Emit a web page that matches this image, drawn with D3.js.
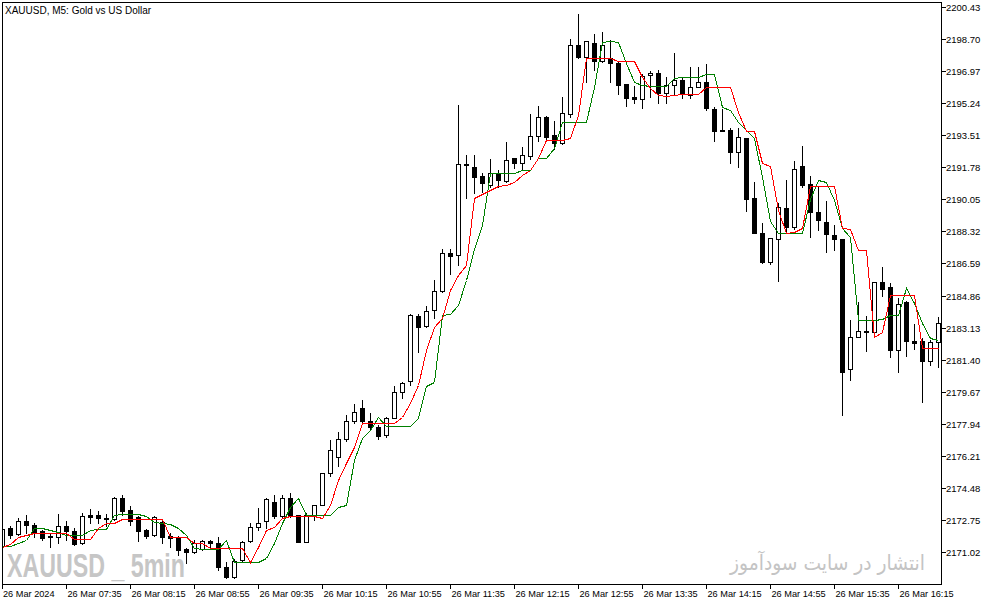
<!DOCTYPE html>
<html>
<head>
<meta charset="utf-8">
<title>XAUUSD M5</title>
<script src="https://d3js.org/d3.v7.min.js"></script>
<style>
  body { margin: 0; background: #fff; }
  svg { display: block; }
</style>
</head>
<body>
<script>
// candles (one per 5 min bar, first bar 06:55)
const open = [
  2171.34, 2172.31, 2171.99, 2172.69, 2172.47, 2172.15, 2171.88, 2171.82, 2172.42, 2172.15,
  2171.50, 2173.01, 2173.01, 2172.85, 2172.80, 2173.93, 2173.28, 2172.90, 2172.20, 2171.93,
  2172.63, 2171.88, 2171.82, 2171.18, 2171.02, 2171.18, 2171.61, 2171.50, 2170.20, 2169.66,
  2170.58, 2171.61, 2172.36, 2172.69, 2173.71, 2172.96, 2173.93, 2173.01, 2171.55, 2173.01,
  2173.55, 2175.28, 2176.14, 2177.12, 2178.09, 2178.79, 2178.09, 2177.76, 2177.33, 2178.25,
  2179.65, 2180.24, 2183.75, 2183.21, 2184.08, 2185.10, 2187.15, 2187.04, 2191.96, 2191.80,
  2191.31, 2190.82, 2191.42, 2191.04, 2192.28, 2192.01, 2192.39, 2193.47, 2194.49, 2193.52,
  2193.09, 2194.66, 2198.38, 2197.73, 2198.49, 2197.52, 2197.68, 2197.41, 2196.27, 2195.57,
  2195.46, 2196.76, 2196.87, 2195.79, 2196.22, 2196.49, 2195.68, 2196.11, 2196.38, 2194.93,
  2193.79, 2193.79, 2192.60, 2193.36, 2190.12, 2188.23, 2186.67, 2187.91, 2189.58, 2188.56,
  2191.85, 2190.88, 2189.36, 2188.83, 2188.12, 2187.91, 2180.89, 2182.62, 2182.94, 2182.89,
  2185.58, 2185.32, 2181.92, 2184.51, 2182.40, 2182.40, 2181.32, 2182.35
];
const high = [
  2172.36, 2172.42, 2172.85, 2173.01, 2172.58, 2172.20, 2172.04, 2173.07, 2172.69, 2172.31,
  2173.12, 2173.34, 2173.23, 2173.07, 2173.99, 2174.09, 2173.50, 2172.96, 2172.25, 2172.96,
  2172.69, 2172.04, 2171.88, 2171.23, 2171.66, 2171.66, 2171.66, 2171.82, 2170.47, 2170.64,
  2171.61, 2172.58, 2173.39, 2173.93, 2174.09, 2174.09, 2174.20, 2173.01, 2173.12, 2173.55,
  2175.28, 2177.06, 2177.49, 2178.41, 2179.00, 2179.22, 2178.52, 2177.87, 2178.30, 2179.98,
  2180.19, 2183.87, 2183.86, 2184.29, 2185.70, 2187.37, 2187.37, 2195.14, 2192.44, 2192.44,
  2191.47, 2192.23, 2191.63, 2193.14, 2192.28, 2192.88, 2194.66, 2195.09, 2194.55, 2194.28,
  2195.57, 2198.70, 2200.05, 2198.59, 2198.97, 2199.08, 2198.65, 2197.46, 2196.27, 2196.17,
  2196.81, 2196.98, 2197.03, 2196.65, 2197.95, 2196.65, 2197.19, 2197.19, 2197.35, 2195.03,
  2194.92, 2193.90, 2193.90, 2193.36, 2190.99, 2188.77, 2187.96, 2189.85, 2191.09, 2192.12,
  2192.93, 2191.31, 2190.71, 2189.96, 2188.66, 2187.91, 2183.54, 2184.51, 2183.75, 2185.59,
  2186.39, 2185.53, 2184.73, 2184.56, 2183.32, 2182.56, 2182.45, 2183.70
];
const low = [
  2171.28, 2171.77, 2171.93, 2172.04, 2171.82, 2171.66, 2171.28, 2171.50, 2171.66, 2171.39,
  2171.45, 2172.58, 2172.58, 2172.42, 2172.74, 2173.01, 2172.47, 2171.61, 2171.77, 2171.88,
  2171.50, 2171.28, 2170.85, 2170.42, 2170.96, 2171.12, 2171.18, 2170.04, 2169.61, 2169.61,
  2170.53, 2171.55, 2172.20, 2172.31, 2172.85, 2172.85, 2172.90, 2171.55, 2171.55, 2172.74,
  2173.55, 2175.12, 2175.66, 2177.01, 2177.98, 2178.03, 2177.60, 2177.11, 2177.22, 2178.25,
  2179.33, 2180.03, 2181.81, 2183.16, 2183.64, 2185.05, 2186.02, 2186.50, 2190.12, 2190.39,
  2190.45, 2190.71, 2190.71, 2190.98, 2191.74, 2191.69, 2192.23, 2193.20, 2193.25, 2192.77,
  2193.03, 2194.49, 2197.68, 2196.38, 2197.03, 2197.46, 2196.38, 2195.73, 2195.09, 2195.25,
  2194.98, 2195.57, 2195.25, 2195.25, 2195.68, 2195.52, 2195.52, 2196.11, 2194.87, 2193.20,
  2193.74, 2192.01, 2191.80, 2189.42, 2188.23, 2186.61, 2186.56, 2185.64, 2188.29, 2188.45,
  2190.71, 2188.02, 2188.39, 2187.21, 2187.31, 2178.41, 2180.30, 2182.62, 2181.86, 2182.83,
  2184.83, 2181.54, 2180.73, 2181.59, 2181.97, 2179.11, 2181.10, 2180.99
];
const close = [
  2172.25, 2171.93, 2172.69, 2172.47, 2172.09, 2171.77, 2171.85, 2172.42, 2172.15, 2171.45,
  2172.96, 2172.90, 2172.85, 2172.82, 2173.93, 2173.23, 2172.69, 2172.15, 2171.88, 2172.90,
  2171.82, 2171.77, 2171.12, 2171.02, 2171.50, 2171.61, 2171.50, 2170.20, 2169.66, 2170.53,
  2171.55, 2172.36, 2172.58, 2173.88, 2172.96, 2173.93, 2173.01, 2171.55, 2173.01, 2173.55,
  2175.28, 2176.52, 2177.12, 2178.09, 2178.57, 2178.09, 2177.76, 2177.28, 2178.25, 2179.65,
  2180.14, 2183.81, 2183.16, 2184.02, 2185.10, 2187.15, 2186.99, 2191.96, 2191.90, 2191.26,
  2190.93, 2191.47, 2191.09, 2192.17, 2192.01, 2192.44, 2193.47, 2194.49, 2193.41, 2193.09,
  2194.71, 2198.38, 2197.73, 2198.59, 2197.52, 2198.38, 2197.41, 2196.22, 2195.52, 2195.46,
  2196.71, 2196.87, 2195.79, 2196.22, 2196.49, 2195.73, 2196.11, 2196.38, 2194.98, 2193.74,
  2193.74, 2192.60, 2193.41, 2190.07, 2188.23, 2186.67, 2187.96, 2189.63, 2188.56, 2191.69,
  2190.82, 2189.36, 2188.93, 2188.18, 2187.91, 2180.73, 2182.62, 2182.94, 2182.89, 2185.58,
  2185.21, 2181.92, 2184.40, 2182.40, 2182.29, 2181.32, 2182.35, 2183.37
];

// the two indicator lines (red = fast, green = slow), also
const redLine = [
  2171.30, 2171.43, 2171.81, 2171.93, 2172.03, 2172.03, 2172.03, 2172.03, 2172.03, 2171.70,
  2171.70, 2171.70, 2172.30, 2172.60, 2172.60, 2172.80, 2172.80, 2172.80, 2172.80, 2172.80,
  2172.80, 2171.84, 2171.84, 2171.84, 2171.52, 2171.52, 2171.22, 2171.22, 2171.22, 2171.22,
  2171.22, 2170.49, 2171.30, 2172.20, 2172.38, 2172.84, 2172.98, 2172.98, 2172.98, 2172.98,
  2172.84, 2173.55, 2174.90, 2175.82, 2176.69, 2178.00, 2178.00, 2178.00, 2178.00, 2178.00,
  2178.32, 2179.06, 2180.03, 2181.92, 2183.18, 2183.65, 2185.16, 2185.97, 2186.51, 2190.11,
  2190.34, 2190.56, 2190.77, 2190.83, 2191.00, 2191.37, 2191.64, 2192.27, 2193.25, 2193.25,
  2193.25, 2193.36, 2194.60, 2197.66, 2197.66, 2197.66, 2197.66, 2197.50, 2197.50, 2197.50,
  2196.67, 2196.04, 2195.68, 2195.63, 2195.68, 2195.74, 2195.74, 2195.74, 2196.10, 2196.10,
  2196.10, 2196.10, 2194.78, 2193.76, 2193.76, 2192.00, 2191.85, 2189.48, 2188.25, 2188.31,
  2188.49, 2190.77, 2190.77, 2190.77, 2190.77, 2188.49, 2188.44, 2187.32, 2187.32, 2182.61,
  2182.91, 2184.89, 2184.89, 2184.89, 2184.89, 2182.01, 2182.01, 2182.01
];
const greenLine = [
  2171.36, 2171.36, 2171.49, 2171.67, 2172.30, 2172.30, 2172.20, 2172.11, 2171.93, 2171.93,
  2171.93, 2172.20, 2172.26, 2172.26, 2173.02, 2173.05, 2173.05, 2173.05, 2172.96, 2172.65,
  2172.57, 2172.53, 2172.30, 2171.93, 2171.22, 2171.18, 2171.18, 2171.18, 2171.67, 2170.49,
  2170.46, 2170.46, 2170.46, 2170.68, 2171.49, 2172.57, 2173.46, 2173.92, 2173.02, 2173.02,
  2173.02, 2173.02, 2173.43, 2173.55, 2175.98, 2177.17, 2177.60, 2178.32, 2177.82, 2177.82,
  2177.82, 2177.82, 2178.27, 2179.98, 2180.21, 2183.81, 2183.85, 2184.35, 2185.70, 2187.37,
  2188.67, 2191.46, 2191.46, 2191.46, 2191.46, 2191.64, 2191.64, 2192.27, 2192.27, 2192.81,
  2194.24, 2194.24, 2194.24, 2194.24, 2196.13, 2198.56, 2198.60, 2198.56, 2197.39, 2196.40,
  2196.22, 2196.17, 2196.17, 2196.17, 2196.62, 2196.64, 2196.64, 2196.64, 2196.80, 2196.80,
  2195.05, 2194.87, 2194.24, 2193.79, 2193.35, 2191.23, 2188.88, 2188.25, 2188.25, 2188.25,
  2188.25, 2190.05, 2191.10, 2191.00, 2190.02, 2188.49, 2188.04, 2183.54, 2183.54, 2183.54,
  2183.59, 2183.81, 2183.81, 2185.25, 2184.44, 2183.36, 2182.55, 2182.46
];

// axis labels
const priceTicks = [2200.43, 2198.70, 2196.97, 2195.24, 2193.51, 2191.78, 2190.05, 2188.32,
  2186.59, 2184.86, 2183.13, 2181.40, 2179.67, 2177.94, 2176.21, 2174.48, 2172.75, 2171.02];
const timeTickBars = [0, 8, 16, 24, 32, 40, 48, 56, 64, 72, 80, 88, 96, 104, 112];
const timeTickLabels = ["26 Mar 2024", "26 Mar 07:35", "26 Mar 08:15", "26 Mar 08:55",
  "26 Mar 09:35", "26 Mar 10:15", "26 Mar 10:55", "26 Mar 11:35", "26 Mar 12:15",
  "26 Mar 12:55", "26 Mar 13:35", "26 Mar 14:15", "26 Mar 14:55", "26 Mar 15:35",
  "26 Mar 16:15"];

const W = 994, H = 605;
const plot = { left: 2, top: 2, right: 941, bottom: 584 };
const FONT = "'Liberation Sans', Arial, sans-serif";

const svg = d3.select("body").append("svg")
  .attr("width", W).attr("height", H);

const x = d3.scaleLinear().domain([0, open.length - 1]).range([2, 938]);
const y = d3.scaleLinear().domain([2171.02, 2200.43]).range([552, 7]);

svg.append("clipPath").attr("id", "plotclip")
  .append("rect")
  .attr("x", plot.left + 1).attr("y", plot.top + 1)
  .attr("width", plot.right - plot.left - 1)
  .attr("height", plot.bottom - plot.top - 1);

// watermarks (under the candles)
svg.append("text")
  .attr("x", 7).attr("y", 577)
  .attr("textLength", 178).attr("lengthAdjust", "spacingAndGlyphs")
  .style("font-family", FONT).style("font-weight", "bold").style("font-size", "33px")
  .style("fill", "#c6c6c6")
  .text("XAUUSD _ 5min");

svg.append("text")
  .attr("x", 925).attr("y", 570)
  .attr("text-anchor", "end")
  .attr("textLength", 195).attr("lengthAdjust", "spacingAndGlyphs")
  .style("font-family", "'DejaVu Sans', sans-serif").style("font-size", "21px")
  .style("fill", "#c4c4c4")
  .text("انتشار در سایت سودآموز");

const chart = svg.append("g").attr("clip-path", "url(#plotclip)")
  .attr("shape-rendering", "crispEdges");

const bars = d3.range(open.length);
const px = (i) => Math.round(x(i));
const py = (v) => Math.round(y(v));

// wicks
chart.selectAll("line.wick").data(bars).enter().append("line")
  .attr("class", "wick")
  .attr("x1", (i) => px(i) + 0.5).attr("x2", (i) => px(i) + 0.5)
  .attr("y1", (i) => py(high[i])).attr("y2", (i) => py(low[i]) + 1)
  .attr("stroke", "#000");

// bodies: black filled for down bars, white with outline for up bars
chart.selectAll("rect.body").data(bars).enter().append("rect")
  .attr("class", "body")
  .each(function (i) {
    const top = py(Math.max(open[i], close[i]));
    const bot = py(Math.min(open[i], close[i]));
    const r = d3.select(this);
    if (close[i] < open[i]) {
      r.attr("x", px(i) - 2).attr("width", 5)
        .attr("y", top).attr("height", Math.max(1, bot - top + 1))
        .attr("fill", "#000");
    } else {
      r.attr("x", px(i) - 1.5).attr("width", 4)
        .attr("y", top + 0.5).attr("height", Math.max(0, bot - top))
        .attr("fill", "#fff").attr("stroke", "#000");
    }
  });

// indicator lines
const line = (arr) => d3.line()
  .x((d, i) => px(i) + 0.5)
  .y((d) => py(d) + 0.5)(arr);

chart.append("path").attr("d", line(greenLine))
  .attr("fill", "none").attr("stroke", "#008000").attr("stroke-width", 1);
chart.append("path").attr("d", line(redLine))
  .attr("fill", "none").attr("stroke", "#ff0000").attr("stroke-width", 1);

// frame
svg.append("rect")
  .attr("x", plot.left + 0.5).attr("y", plot.top + 0.5)
  .attr("width", plot.right - plot.left).attr("height", plot.bottom - plot.top)
  .attr("fill", "none").attr("stroke", "#000")
  .attr("shape-rendering", "crispEdges");

// price axis on the right
const yAxis = svg.append("g").attr("shape-rendering", "crispEdges");
yAxis.selectAll("line").data(priceTicks).enter().append("line")
  .attr("x1", plot.right + 0.5).attr("x2", plot.right + 5)
  .attr("y1", (v) => py(v) + 0.5).attr("y2", (v) => py(v) + 0.5)
  .attr("stroke", "#000");
yAxis.selectAll("text").data(priceTicks).enter().append("text")
  .attr("x", plot.right + 5).attr("y", (v) => py(v) + 4)
  .style("font-family", FONT).style("font-size", "9.5px").style("fill", "#000")
  .text((v) => v.toFixed(2));

// time axis
const xAxis = svg.append("g").attr("shape-rendering", "crispEdges");
xAxis.selectAll("line").data(timeTickBars).enter().append("line")
  .attr("x1", (i) => px(i) + 0.5).attr("x2", (i) => px(i) + 0.5)
  .attr("y1", plot.bottom + 0.5).attr("y2", plot.bottom + 5)
  .attr("stroke", "#000");
xAxis.selectAll("text").data(timeTickBars).enter().append("text")
  .attr("x", (i) => px(i) + (i === 0 ? 1 : 1.5)).attr("y", 597)
  .style("font-family", FONT).style("font-size", "9.2px").style("fill", "#000")
  .text((i, k) => timeTickLabels[k]);

// title
svg.append("text")
  .attr("x", 5).attr("y", 14)
  .style("font-family", FONT).style("font-size", "10px").style("fill", "#000")
  .text("XAUUSD, M5:  Gold vs US Dollar");
</script>
</body>
</html>
